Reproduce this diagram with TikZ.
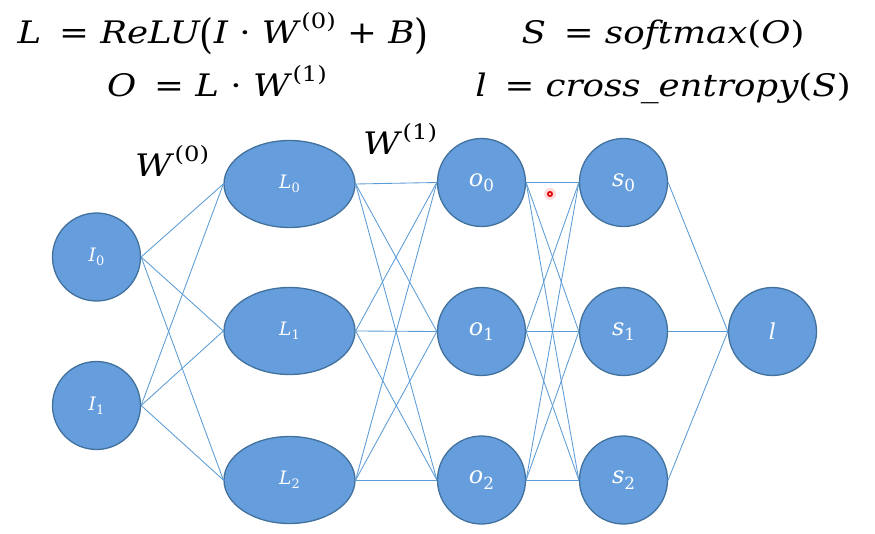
\documentclass[tikz,border=0pt]{standalone}
\usepackage{fontspec}
\usetikzlibrary{shapes.geometric}
\newfontfamily\eqfont{DejaVu Serif}
\newcommand{\vv}[1]{{\itshape #1}}
\newcommand{\supr}[1]{\hspace{0.08em}\raisebox{0.5em}{\scalebox{0.68}{#1}}}
\newcommand{\subr}[1]{\raisebox{-0.22em}{\scalebox{0.7}{#1}}}
\newcommand{\bigp}[1]{\raisebox{-0.14em}{\scalebox{1}[1.32]{#1}}}
\newcommand{\wide}[1]{\scalebox{1.15}[1]{#1}}
\definecolor{nfill}{RGB}{101,157,221}
\definecolor{nline}{RGB}{65,113,156}
\definecolor{eline}{RGB}{91,155,213}
\begin{document}
\begin{tikzpicture}[x=1pt,y=-1pt,
  neuron/.style={circle,draw=nline,fill=nfill,line width=1.3pt,minimum size=88pt,inner sep=0pt,text=white},
  hid/.style={ellipse,draw=nline,fill=nfill,line width=1.3pt,minimum width=131pt,minimum height=87pt,inner sep=0pt,text=white},
  conn/.style={draw=eline,line width=0.85pt},
  eq/.style={font=\eqfont\fontsize{31}{37}\selectfont,anchor=base,inner sep=0pt},
  smalllab/.style={font=\eqfont\fontsize{18.5}{22}\selectfont},
  biglab/.style={font=\eqfont\fontsize{24}{28}\selectfont}]
\useasboundingbox (0,0) rectangle (875,534);
% formulas
\node[eq] (f1) at (223,44) {\wide{\vv{L}\hspace{0.5em}= \vv{ReLU}\bigp{(}\vv{I} · \vv{W}\supr{(0)} + \vv{B}\bigp{)}}};
\node[eq] (f2) at (217,97) {\wide{\vv{O}\hspace{0.5em}= \vv{L} · \vv{W}\supr{(1)}}};
\node[eq] (f3) at (663,44) {\wide{\vv{S}\hspace{0.5em}= \vv{softmax}(\vv{O})}};
\node[eq] (f4) at (663,97) {\wide{\vv{l}\hspace{0.5em}= \vv{cross\_entropy}(\vv{S})}};
\node[eq,anchor=base west] (w0) at (135,177) {\wide{\vv{W}\supr{(0)}}};
\node[eq,anchor=base west] (w1) at (363,155) {\wide{\vv{W}\supr{(1)}}};
% nodes
\node[neuron,smalllab] (I0) at (96.5,257) {\vv{I}\subr{0}};
\node[neuron,smalllab] (I1) at (96.5,405.5) {\vv{I}\subr{1}};
\node[hid,smalllab] (L0) at (289.5,184) {\vv{L}\subr{0}};
\node[hid,smalllab] (L1) at (289.5,331) {\vv{L}\subr{1}};
\node[hid,smalllab] (L2) at (289.5,480) {\vv{L}\subr{2}};
\node[neuron,biglab] (o0) at (481.5,182.5) {\vv{o}\subr{0}};
\node[neuron,biglab] (o1) at (481.5,331.5) {\vv{o}\subr{1}};
\node[neuron,biglab] (o2) at (481.5,480) {\vv{o}\subr{2}};
\node[neuron,biglab] (s0) at (623.5,182.5) {\vv{s}\subr{0}};
\node[neuron,biglab] (s1) at (623.5,331.5) {\vv{s}\subr{1}};
\node[neuron,biglab] (s2) at (623.5,480) {\vv{s}\subr{2}};
\node[neuron,font=\eqfont\fontsize{22}{26}\selectfont] (l) at (772.5,331.5) {\vv{l}};
% connectors
\foreach \a in {I0,I1}{\foreach \b in {L0,L1,L2}{\draw[conn] (\a.east) -- (\b.west);}}
\foreach \a in {L0,L1,L2}{\foreach \b in {o0,o1,o2}{\draw[conn] (\a.east) -- (\b.west);}}
\foreach \a in {o0,o1,o2}{\foreach \b in {s0,s1,s2}{\draw[conn] (\a.east) -- (\b.west);}}
\foreach \a in {s0,s1,s2}{\draw[conn] (\a.east) -- (l.west);}
% pointer
\fill[red!25,opacity=0.6] (550,194) circle (6);
\fill[red!90!black] (550,194) circle (3);
\fill[white] (550,194) circle (1.1);
\end{tikzpicture}
\end{document}
